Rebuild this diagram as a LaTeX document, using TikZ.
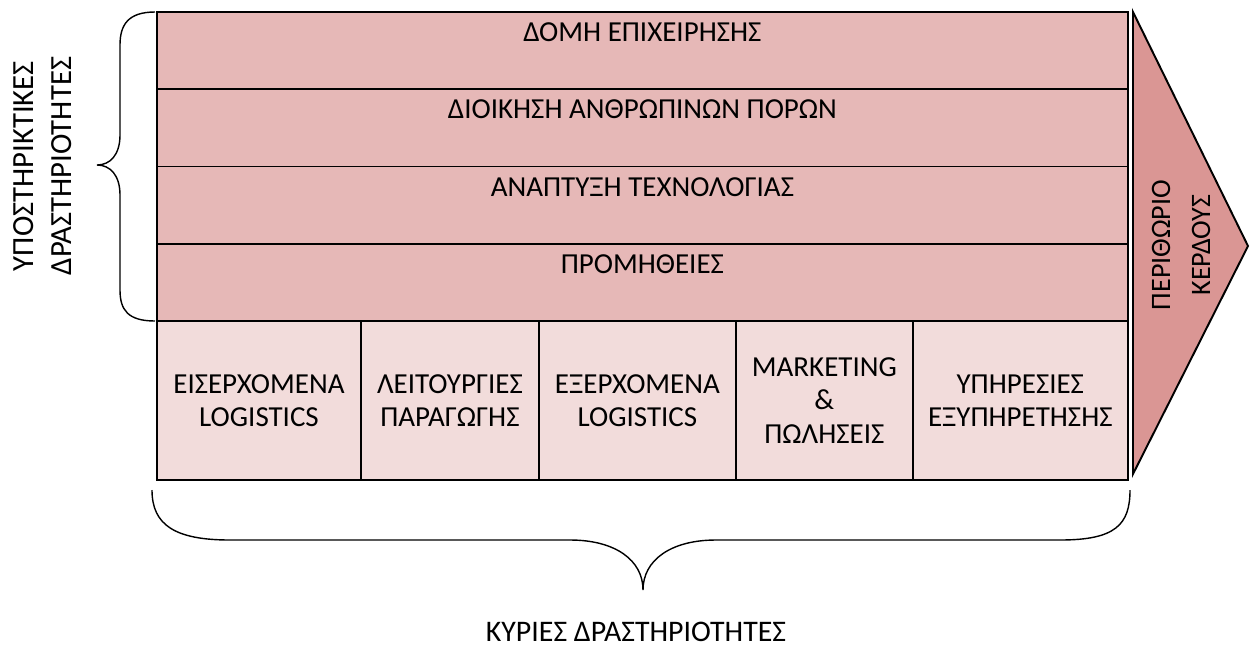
\documentclass[tikz,border=0pt]{standalone}
\usepackage{fontspec}
\setmainfont{Carlito}
\usetikzlibrary{positioning}
\definecolor{supportfill}{HTML}{E6B8B7}
\definecolor{primaryfill}{HTML}{F2DCDB}
\definecolor{marginfill}{HTML}{DA9694}

\begin{document}
\begin{tikzpicture}[%
    x=0.02cm, y=-0.02cm,
    node distance = 0pt,
    basic/.style={draw,line width=1.1pt,outer sep=0pt,font=\fontsize{16.5}{19}\selectfont,inner sep=0pt,align=center},
    support/.style={basic,fill=supportfill,minimum width=19.42cm,minimum height=1.545cm,anchor=north west},
    rowtext/.style={font=\fontsize{16.5}{19}\selectfont,anchor=north,inner sep=0pt,yshift=-0.21cm},
    primary/.style={basic,fill=primaryfill,minimum height=3.18cm},
    caption/.style={font=\fontsize{16.5}{19}\selectfont,align=center},
    brace/.style={line width=0.8pt}
]
        \useasboundingbox (0,0) rectangle (1250,650);
        % support activities
        \node[support,label={[rowtext]north:ΔΟΜΗ ΕΠΙΧΕΙΡΗΣΗΣ}] (infra) at (157,12) {};
        \node[support,below=of infra,label={[rowtext]north:ΔΙΟΙΚΗΣΗ ΑΝΘΡΩΠΙΝΩΝ ΠΟΡΩΝ}] (hrm) {};
        \node[support,below=of hrm,label={[rowtext]north:ΑΝΑΠΤΥΞΗ ΤΕΧΝΟΛΟΓΙΑΣ}] (tech) {};
        \node[support,below=of tech,label={[rowtext]north:ΠΡΟΜΗΘΕΙΕΣ}] (procure) {};
        
        % primary activities
        \node[primary,minimum width=4.08cm,anchor=north west] (inbound) at (procure.south west) {ΕΙΣΕΡΧΟΜΕΝΑ\\LOGISTICS};
        \node[primary,minimum width=3.56cm,right=of inbound] (operations) {ΛΕΙΤΟΥΡΓΙΕΣ\\ΠΑΡΑΓΩΓΗΣ};
        \node[primary,minimum width=3.94cm,right=of operations] (outbound) {ΕΞΕΡΧΟΜΕΝΑ\\LOGISTICS};
        \node[primary,minimum width=3.54cm,right=of outbound] (marketing) {MARKETING\\\&\\ΠΩΛΗΣΕΙΣ};
        \node[primary,minimum width=4.30cm,right=of marketing] (service) {ΥΠΗΡΕΣΙΕΣ\\ΕΞΥΠΗΡΕΤΗΣΗΣ};
        
        % margin arrow
        \coordinate (mtop) at (1133,12);
        \coordinate (mtip) at (1248,246);
        \coordinate (mbot) at (1133,474);
        \draw[line width=1.1pt,fill=marginfill] (mtop) -- (mtip) -- (mbot) -- cycle;
        \node[caption,rotate=90,font=\fontsize{16}{19}\selectfont] (margin1) at (1161,245) {ΠΕΡΙΘΩΡΙΟ};
        \node[caption,rotate=90,font=\fontsize{16}{19}\selectfont] (margin2) at (1201,245) {ΚΕΡΔΟΥΣ};
        
        % braces
        \draw[brace] (155,12) .. controls (128,12) and (120,25) .. (120,45) -- (120,135)
            .. controls (120,155) and (110,165) .. (97,165)
            .. controls (110,165) and (120,175) .. (120,195) -- (120,290)
            .. controls (120,310) and (128,321) .. (155,321);
        \draw[brace] (152,490) .. controls (152,525) and (175,540) .. (230,540) -- (570,540)
            .. controls (615,540) and (643,560) .. (643,590)
            .. controls (643,560) and (671,540) .. (716,540) -- (1060,540)
            .. controls (1115,540) and (1130,525) .. (1130,490);
        
        \node[caption,rotate=90,font=\fontsize{17.5}{21}\selectfont] (supp1) at (24,166) {ΥΠΟΣΤΗΡΙΚΤΙΚΕΣ};
        \node[caption,rotate=90,font=\fontsize{17.5}{21}\selectfont] (supp2) at (62,166) {ΔΡΑΣΤΗΡΙΟΤΗΤΕΣ};
        \node[caption,font=\fontsize{17}{20}\selectfont] (primlabel) at (636,632) {ΚΥΡΙΕΣ ΔΡΑΣΤΗΡΙΟΤΗΤΕΣ};
\end{tikzpicture}
\end{document}
